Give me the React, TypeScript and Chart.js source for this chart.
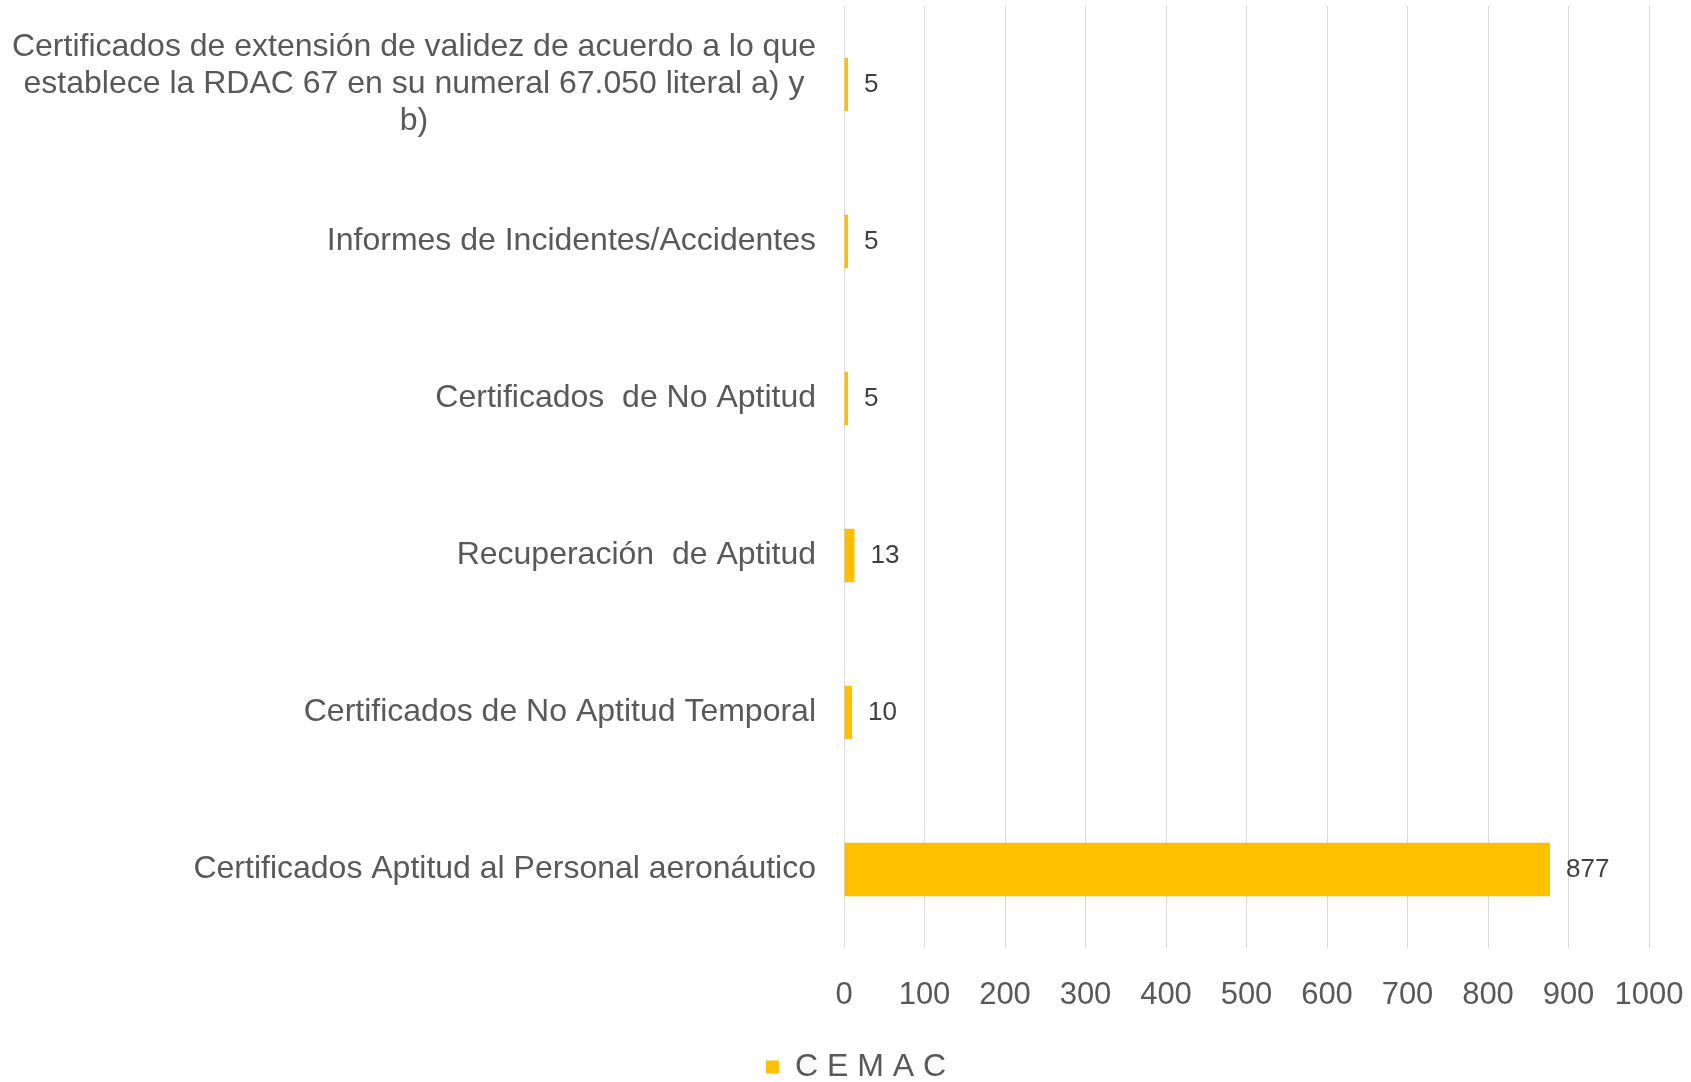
import { useEffect, useRef } from 'react';
import { Chart, registerables } from 'chart.js';

Chart.register(...registerables);

const categoryLines: string[][] = [
  ['Certificados de extensión de validez de acuerdo a lo que', 'establece la RDAC 67 en su numeral 67.050 literal a) y', 'b)'],
  ['Informes de Incidentes/Accidentes'],
  ['Certificados  de No Aptitud'],
  ['Recuperación  de Aptitud'],
  ['Certificados de No Aptitud Temporal'],
  ['Certificados Aptitud al Personal aeronáutico'],
];
const seriesName = 'C E M A C';
const seriesValues = [5, 5, 5, 13, 10, 877];
const xMin = 0;
const xMax = 1000;
const xStep = 100;

const FONT = '"Liberation Sans", Arial, sans-serif';

const yLabelPlugin = {
  id: 'yLabels',
  afterDraw(chart: any) {
    const ctx = chart.ctx;
    const y = chart.scales.y;
    ctx.save();
    ctx.font = `32px ${FONT}`;
    ctx.fillStyle = '#595959';
    ctx.textAlign = 'center';
    ctx.textBaseline = 'middle';
    const right = chart.chartArea.left - 28;
    const lh = 37;
    categoryLines.forEach((lines, i) => {
      const cy = y.getPixelForValue(i);
      const w = Math.max(...lines.map((l) => ctx.measureText(l).width));
      const cx = right - w / 2;
      lines.forEach((l, j) => ctx.fillText(l, cx, cy + (j - (lines.length - 1) / 2) * lh));
    });
    ctx.restore();
  },
};

const dataLabelPlugin = {
  id: 'dataLabels',
  afterDatasetsDraw(chart: any) {
    const ctx = chart.ctx;
    const meta = chart.getDatasetMeta(0);
    ctx.save();
    ctx.font = `26px ${FONT}`;
    ctx.fillStyle = '#404040';
    ctx.textAlign = 'left';
    ctx.textBaseline = 'middle';
    meta.data.forEach((bar: any, i: number) => {
      ctx.fillText(String(seriesValues[i]), bar.x + 16, bar.y);
    });
    ctx.restore();
  },
};

export default function App() {
  const ref = useRef<HTMLCanvasElement>(null);
  useEffect(() => {
    if (!ref.current) return;
    const chart = new Chart(ref.current, {
      type: 'bar',
      data: {
        labels: categoryLines.map((l) => l.join(' ')),
        datasets: [
          {
            label: seriesName,
            data: seriesValues,
            backgroundColor: '#FFC000',
            borderWidth: 0,
            barPercentage: 0.34,
            categoryPercentage: 1,
          },
        ],
      },
      options: {
        indexAxis: 'y',
        animation: false,
        responsive: true,
        maintainAspectRatio: false,
        layout: { padding: { top: 6, right: 42, bottom: -11, left: 63 } },
        scales: {
          x: {
            position: 'bottom',
            min: xMin,
            max: xMax,
            ticks: {
              stepSize: xStep,
              color: '#595959',
              font: { size: 31, family: FONT },
              padding: 29,
              maxRotation: 0,
              minRotation: 0,
              autoSkip: false,
              callback: (v: any) => String(v),
            },
            grid: { color: '#d9d9d9', drawTicks: false, lineWidth: 1 },
            border: { display: false },
            afterFit: (s: any) => {
              s.height = 93;
              s.paddingLeft = 0;
              s.paddingRight = 0;
            },
          },
          y: {
            ticks: { display: false },
            grid: { display: false },
            border: { display: false },
            afterFit: (s: any) => {
              s.width = 781;
              s.paddingTop = 0;
              s.paddingBottom = 0;
            },
          },
        },
        plugins: {
          legend: {
            position: 'bottom',
            labels: {
              color: '#595959',
              font: { size: 32, family: FONT },
              boxWidth: 13,
              boxHeight: 13,
              padding: 10,
            },
          },
          tooltip: { enabled: false },
        },
      },
      plugins: [yLabelPlugin, dataLabelPlugin],
    });
    return () => chart.destroy();
  }, []);
  return (
    <div style={{ position: 'fixed', left: 0, top: 0, width: '1691px', height: '1082px', background: '#fff' }}>
      <canvas ref={ref} />
    </div>
  );
}
